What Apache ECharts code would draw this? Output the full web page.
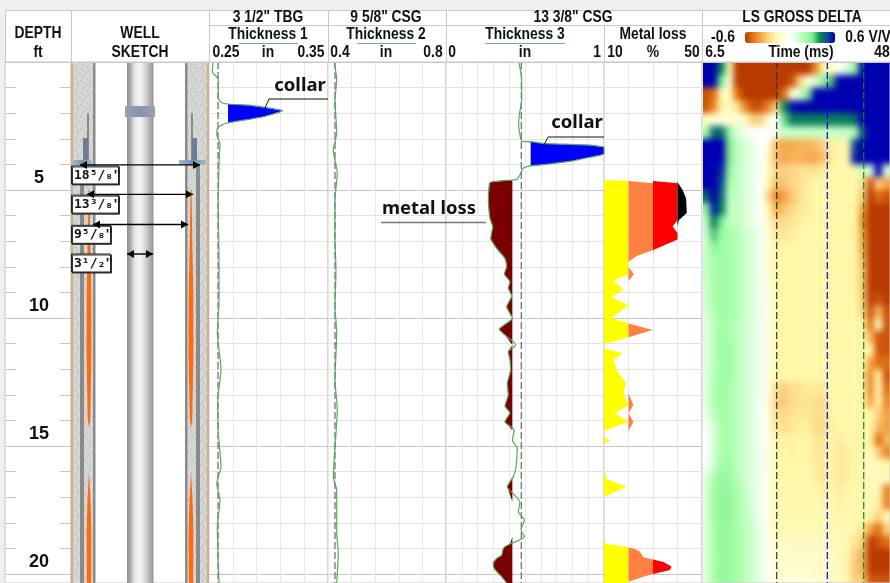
<!DOCTYPE html>
<html><head><meta charset="utf-8">
<script src="https://cdn.jsdelivr.net/npm/echarts@6/dist/echarts.min.js"></script>
<style>
html,body{margin:0;padding:0;width:890px;height:583px;overflow:hidden;background:#efefef}
#heatClip{position:absolute;left:702px;top:62px;width:188px;height:521px;overflow:hidden;background:#fff}
#heat{position:absolute;left:-14px;top:-14px;width:216px;height:549px;filter:blur(3px)}
#main{position:absolute;left:0;top:0;width:890px;height:583px}
</style></head><body>
<div id="heatClip"><div id="heat"></div></div>
<div id="main"></div>
<script>
// ---------- data ----------
const depthMax = 20.35;
const t1Depth = [0,.38,.68,1.42,1.59,1.64,1.71,1.90,2.14,2.38,2.46,2.59,2.85,3.18,3.70,4.34,5.39,6.56,7.73,9.30,10.59,12.03,13.2,14.49,15.81,16.46,17.11,18.15,20.35];
const t1Value = [.2534,.2528,.2578,.2578,.2607,.2660,.2872,.3119,.2956,.2660,.2607,.2570,.2565,.2592,.2587,.2582,.2578,.2580,.2584,.2584,.2570,.2601,.2573,.2578,.2601,.2565,.2592,.2570,.2584];
const t2Depth = [0,.70,1.48,2.77,3.44,4.34,5.39,6.95,8.13,9.57,10.59,12.42,13.59,15.04,16.21,16.72,18.40,19.18,20.35];
const t2Value = [.4214,.4295,.4237,.4295,.4180,.4315,.4237,.4237,.4271,.4237,.4295,.4237,.4315,.4237,.4180,.4295,.4295,.4349,.4295];
const t3Depth = [0,.43,.70,1.48,2.07,2.46,2.85,3.10,3.11,3.18,3.21,3.24,3.33,3.46,3.59,3.72,3.86,3.98,4.06,4.15,4.41,4.58,4.61,4.71,5.39,6.11,6.43,6.89,7.28,7.67,8.0,8.28,8.58,8.83,9.14,9.56,10.01,10.44,10.66,11.05,11.32,11.64,12.03,12.55,13.0,13.44,13.7,14.05,14.38,14.77,15.09,15.81,16.2,16.59,17.18,17.57,17.89,18.28,18.54,18.83,18.93,19.06,19.26,19.39,19.58,19.78,19.97,20.11,20.35];
const t3Value = [.460,.475,.479,.479,.464,.460,.468,.479,.536,.614,.741,.891,1,1,1,.911,.804,.658,.536,.489,.468,.451,.422,.278,.268,.278,.296,.283,.321,.373,.384,.369,.405,.394,.416,.384,.420,.337,.373,.441,.394,.405,.409,.388,.394,.373,.405,.373,.432,.420,.451,.443,.426,.388,.468,.458,.496,.475,.496,.405,.373,.359,.353,.321,.299,.304,.331,.353,.384];
const nominalT1 = .2576, nominalT2 = .4237, nominalT3 = .4766;
const collarBaseT1 = .266, collarBaseT3 = .536, lossBaseT3 = .42;
const mlDepth = [4.61,4.65,4.74,5.0,5.32,5.90,6.17,6.43,6.68,6.93,7.34,7.58,7.80,8.01,8.29,8.55,8.88,9.19,9.49,10.01,10.21,10.47,10.75,11.02,11.18,11.38,11.64,12.03,12.55,12.94,13.40,13.72,14.05,14.41,14.66,14.79,14.92,15.94,16.30,16.59,16.98,18.80,18.96,19.02,19.13,19.34,19.43,19.53,19.71,19.84,20.0,20.11,20.30,20.35];
const mlValue = [10,20,40.3,42.1,43.5,43.8,40.6,38,40,40,30.1,23.3,20,20,22.2,13.8,17.9,13.1,20,13.1,20,29.9,20,10,10,17.6,13.8,15.2,19,17.9,22,14.5,22,10,10,12.6,10,10,11.1,19.3,10,10,20,22.7,24.7,26,30.1,34.2,37.6,36.9,30.1,26,20,19.5];
const mlBands = [[10,20],[20,30],[30,40],[40,50]];
const timeMarkers = [22.99,34.16,42.2];
const timeMin = 6.5, timeMax = 48, heatDepthStep = .5;
const heatRows = [
[.6,.6,.4,-.15,-.6,-.6,-.6,-.6,-.6,-.6,-.6,-.6,-.6,-.6,-.45,-.2,-.15,0,.1,.25,.6,.6,.6,.6],
[.6,.6,.3,-.1,-.6,-.6,-.6,-.6,-.6,-.6,-.6,-.55,-.3,-.1,.1,.25,.35,.6,.6,.6,.6,.6,.6,.6],
[-.55,-.5,-.15,-.15,-.5,-.6,-.6,-.6,-.6,-.6,-.5,-.1,.1,.3,.6,.6,.6,.6,.6,.6,.6,.6,.6,.6],
[-.55,-.45,-.2,-.15,-.25,-.45,-.55,-.55,-.45,-.3,.4,.58,.6,.6,.6,.6,.6,.6,.6,.6,.6,.6,.6,.6],
[-.15,-.1,-.1,-.1,-.1,-.15,-.3,-.3,-.1,0,.32,.42,.42,.42,.42,.42,.42,.42,.42,.45,.6,.6,.6,.6],
[.2,.45,.45,.25,.1,.05,0,0,0,.05,.14,.14,.14,.14,.14,.14,.14,.14,.14,.2,.5,.6,.6,.6],
[.6,.6,.6,.3,.15,.1,.05,0,-.1,-.35,-.38,-.38,-.36,-.36,-.34,-.3,-.22,-.2,-.2,.5,.6,.6,.6,.6],
[.6,.6,.6,.3,.15,.1,.05,0,-.15,-.35,-.38,-.36,-.36,-.38,-.38,-.33,-.22,-.2,-.2,.55,.6,.6,.6,.6],
[.6,.6,.55,.25,.15,.1,.05,0,-.15,-.3,-.3,-.28,-.26,-.26,-.25,-.22,-.2,-.2,-.2,-.2,.15,.1,.6,.1],
[.6,.6,.5,.2,.15,.1,.05,0,-.18,-.34,-.32,-.28,-.26,-.22,-.2,-.2,-.2,-.2,-.2,-.2,-.25,-.55,-.3,-.4],
[.45,.6,.45,.15,.15,.1,.05,0,-.28,-.45,-.4,-.32,-.26,-.22,-.2,-.2,-.2,-.2,-.2,-.2,-.3,-.6,-.5,-.55],
[.25,.56,.42,.15,.15,.1,.05,0,-.2,-.38,-.32,-.28,-.24,-.22,-.2,-.2,-.2,-.2,-.2,-.2,-.4,-.6,-.6,-.6],
[.15,.42,.3,.15,.15,.1,.05,0,-.12,-.28,-.26,-.24,-.22,-.2,-.2,-.2,-.2,-.2,-.2,-.2,-.45,-.6,-.6,-.6],
[.12,.34,.22,.2,.18,.12,.1,.03,-.1,-.24,-.24,-.22,-.2,-.2,-.2,-.2,-.2,-.2,-.2,-.2,-.4,-.6,-.6,-.6],
[.12,.26,.22,.2,.18,.12,.1,.03,-.1,-.2,-.2,-.2,-.2,-.2,-.2,-.2,-.2,-.2,-.2,-.2,-.38,-.6,-.6,-.6],
[.14,.2,.22,.2,.18,.12,.1,.03,-.1,-.2,-.2,-.2,-.2,-.2,-.2,-.2,-.2,-.2,-.2,-.2,-.35,-.6,-.6,-.6],
[.14,.2,.22,.2,.18,.12,.1,.03,-.1,-.2,-.2,-.2,-.2,-.2,-.2,-.2,-.2,-.2,-.2,-.2,-.32,-.6,-.6,-.6],
[.12,.2,.22,.2,.18,.12,.1,.03,-.08,-.2,-.2,-.2,-.2,-.2,-.2,-.2,-.2,-.2,-.2,-.2,-.32,-.6,-.6,-.6],
[.12,.2,.22,.2,.18,.12,.1,.03,-.08,-.2,-.2,-.2,-.2,-.2,-.2,-.2,-.2,-.2,-.2,-.2,-.3,-.6,-.55,-.6],
[.1,.18,.22,.2,.18,.12,.1,.03,-.08,-.2,-.2,-.2,-.2,-.2,-.2,-.2,-.2,-.2,-.2,-.2,-.28,-.55,-.35,-.55],
[.08,.15,.22,.2,.16,.12,.08,.03,-.08,-.2,-.2,-.2,-.2,-.2,-.2,-.2,-.2,-.2,-.2,-.2,-.2,-.5,-.12,-.55],
[.08,.15,.22,.2,.16,.12,.08,.03,-.08,-.2,-.2,-.2,-.2,-.2,-.2,-.2,-.2,-.2,-.2,-.2,-.2,-.35,-.55,-.55],
[.08,.15,.22,.22,.16,.12,.08,.03,-.08,-.2,-.2,-.2,-.2,-.2,-.2,-.2,-.2,-.2,-.2,-.2,-.2,-.2,-.55,-.55],
[.08,.15,.22,.22,.16,.12,.08,.03,-.08,-.2,-.2,-.2,-.2,-.2,-.2,-.2,-.2,-.2,-.2,-.2,-.2,-.4,-.5,-.5],
[.08,.18,.22,.22,.16,.12,.08,.03,-.08,-.2,-.2,-.2,-.2,-.2,-.2,-.2,-.2,-.2,-.2,-.2,-.2,-.45,-.2,-.55],
[.08,.18,.22,.2,.16,.12,.08,.03,-.08,-.27,-.3,-.26,-.25,-.23,-.23,-.24,-.2,-.2,-.2,-.2,-.2,-.45,-.15,-.5],
[.08,.18,.22,.2,.16,.12,.08,.02,-.1,-.3,-.32,-.27,-.25,-.25,-.27,-.27,-.2,-.2,-.2,-.2,-.2,-.4,-.2,-.45],
[.06,.16,.2,.2,.16,.12,.08,.02,-.1,-.27,-.28,-.25,-.24,-.24,-.26,-.27,-.2,-.2,-.2,-.2,-.2,-.2,-.3,-.4],
[.02,.1,.2,.2,.16,.12,.08,.02,-.08,-.24,-.27,-.24,-.22,-.22,-.27,-.28,-.21,-.2,-.2,-.2,-.2,-.2,-.35,-.4],
[0,.1,.2,.2,.16,.12,.08,.02,-.08,-.2,-.21,-.21,-.2,-.2,-.24,-.25,-.2,-.22,-.2,-.2,-.2,-.2,-.5,-.35],
[0,.1,.2,.2,.16,.12,.08,.03,-.08,-.2,-.2,-.21,-.2,-.2,-.24,-.24,-.2,-.24,-.22,-.2,-.2,-.15,-.3,-.45],
[.02,.12,.22,.22,.16,.12,.08,.03,-.08,-.2,-.2,-.2,-.2,-.2,-.23,-.24,-.2,-.24,-.23,-.2,-.18,-.15,-.15,-.2],
[.08,.2,.24,.22,.18,.12,.08,.03,-.07,-.2,-.2,-.2,-.2,-.2,-.22,-.24,-.2,-.24,-.22,-.2,-.17,-.16,-.16,-.16],
[.08,.22,.25,.24,.2,.14,.08,.03,-.07,-.19,-.19,-.19,-.19,-.19,-.2,-.22,-.2,-.22,-.2,-.19,-.17,-.16,-.16,-.45],
[.08,.22,.25,.25,.2,.15,.1,.03,-.07,-.19,-.19,-.19,-.19,-.19,-.19,-.19,-.19,-.21,-.19,-.19,-.18,-.17,-.2,-.45],
[.08,.22,.25,.25,.2,.15,.1,.03,-.06,-.18,-.18,-.18,-.18,-.18,-.18,-.18,-.18,-.2,-.18,-.18,-.2,-.2,-.3,-.18],
[.08,.2,.24,.24,.2,.16,.12,.04,-.05,-.17,-.17,-.17,-.17,-.17,-.17,-.17,-.17,-.17,-.17,-.2,-.25,-.4,-.5,-.3],
[.08,.2,.24,.24,.2,.16,.12,.05,-.04,-.15,-.15,-.15,-.15,-.15,-.15,-.15,-.16,-.16,-.18,-.24,-.3,-.6,-.55,-.5],
[.08,.2,.24,.24,.2,.16,.12,.06,-.03,-.13,-.13,-.13,-.13,-.13,-.14,-.14,-.15,-.16,-.2,-.3,-.35,-.6,-.6,-.6],
[.08,.2,.24,.24,.2,.16,.12,.06,-.02,-.12,-.12,-.12,-.12,-.12,-.13,-.13,-.14,-.15,-.2,-.32,-.35,-.6,-.6,-.6],
[.08,.2,.24,.24,.2,.16,.12,.06,-.02,-.1,-.1,-.1,-.1,-.1,-.12,-.12,-.13,-.14,-.18,-.3,-.3,-.55,-.55,-.55]
];
const heatColors = ['#b83a00','#e07010','#f4a040','#fbd080','#fff7a8','#fffdd8','#ffffff','#d8ffd8','#a8ffa8','#80ec90','#0a8a50','#0a4a90','#0000b0'];

// ---------- text ----------
const headerFont = '"Liberation Sans",Arial,sans-serif';
const headerTexts = [
 ['DEPTH',38,33],['ft',38,52],['WELL',140,33],['SKETCH',140,52],
 ['3 1/2" TBG',268,17],['Thickness 1',268,34],['0.25',226,52],['in',268,52],['0.35',311,52],
 ['9 5/8" CSG',386,17],['Thickness 2',386,34],['0.4',340,52],['in',386,52],['0.8',433,52],
 ['13 3/8" CSG',573,17],['Thickness 3',525,34],['0',452,52],['in',525,52],['1',597,52],
 ['Metal loss',653,34],['10',615,52],['%',653,52],['50',692,52],
 ['LS GROSS DELTA',802,17],['-0.6',723,37],['0.6 V/V',868,37],['6.5',715,52],['Time (ms)',801,52],['48',882,52]
];
const annotations = [['collar',300,86],['collar',577,123],['metal loss',429,209]];
const sizeLabels = [['18⁵/₈"',47,4.06],['13³/₈"',47,5.2],['9⁵/₈"',39,6.38],['3¹/₂"',39,7.5]];

// ---------- well sketch definition (schematic units across the track) ----------
const sketchLayers = [
 [2.5,24,0,depthMax,'cement'],[114,135.5,0,depthMax,'cement'],
 [0,2.5,0,depthMax,'tan'],[135.5,138,0,depthMax,'tan'],
 [22,24.5,0,depthMax,'casing'],[114,116.5,0,depthMax,'casing'],
 [9,13,4.02,depthMax,'casing'],[125,129,4.02,depthMax,'casing'],
 [56,82.5,0,depthMax,'tube'],[54,84,1.72,2.15,'collar'],
 [16,18,2,4.02,'casing'],[120,122,2,4.02,'casing'],
 [12,17,2.97,3.94,'steel'],[121,126,2.97,3.94,'steel'],
 [2,21,3.83,4.02,'flange'],[108,135,3.83,4.02,'flange']
];
const orangeCentres = [18,120];
const orangeDepth = [[5,7,9,11.5,14,14.3],[16,17.1,18.4,19.5,20.35]];
const orangeWidth = [[1,2.5,4.6,4.8,2.4,0],[0,3,4.8,4.6,4.4]];
const sizeArrows = [[9,129,4.02],[16,122,5.17],[22,117,6.35],[56,82,7.5]];

// ---------- helpers ----------
const zip = (a,b)=>a.map((v,i)=>[v,b[i]]);
const speckle = document.createElement('canvas'); speckle.width=speckle.height=12;
(function(){const c=speckle.getContext('2d');c.fillStyle='#d4d4d4';c.fillRect(0,0,12,12);
 c.fillStyle='#b0b0b0';[[1,2],[6,1],[10,4],[3,7],[8,8],[5,11],[11,10]].forEach(p=>c.fillRect(p[0],p[1],1,1));
 c.fillStyle='#ececec';[[3,3],[8,4],[1,9],[6,6],[10,1],[9,11]].forEach(p=>c.fillRect(p[0],p[1],1,1));})();
const tubeFill = new echarts.graphic.LinearGradient(0,0,1,0,[{offset:0,color:'#8c8c8c'},{offset:.12,color:'#aaaaaa'},{offset:.3,color:'#e8e8e8'},{offset:.5,color:'#f4f4f4'},{offset:.72,color:'#cfcfcf'},{offset:1,color:'#929292'}]);
const collarFill = new echarts.graphic.LinearGradient(0,0,1,0,[{offset:0,color:'#9aa0a8'},{offset:.5,color:'#8195ad'},{offset:1,color:'#9aa0a8'}]);
const flangeFill = new echarts.graphic.LinearGradient(0,0,1,0,[{offset:0,color:'#a3b8c8'},{offset:.5,color:'#6f93b3'},{offset:1,color:'#a3b8c8'}]);
const fills = {cement:{image:speckle,repeat:'repeat'},tan:'#c9b48a',casing:'#8a8a8a',tube:tubeFill,collar:collarFill,steel:'#6a7f96',flange:flangeFill};

const tracks = [[5,66],[71,138],[209,119],[328,118],[446,158],[604,98],[702,188]];
const grids = tracks.map((t,i)=>({left:t[0],top:62,width:t[1],height:521,show:true,borderColor:'#c8c8c8',borderWidth:1,backgroundColor:i===6?'transparent':'#fff',containLabel:false}));
const xRanges = [[0,1,1],[0,138,138],[.25,.35,.02],[.4,.8,.08],[0,1,.1],[10,50,10],[timeMin,timeMax,timeMax-timeMin]];
const xAxes = xRanges.map((r,i)=>({type:'value',gridIndex:i,min:r[0],max:r[1],interval:r[2],position:'top',axisLine:{show:false},axisTick:{show:false},axisLabel:{show:false},
  splitLine:{show:i>=2&&i<6,lineStyle:{color:'#e8e8e8',width:1}}}));
const yBase = g=>({type:'value',gridIndex:g,inverse:true,min:0,max:depthMax,interval:1,axisLine:{show:false},axisTick:{show:false},axisLabel:{show:false},splitLine:{show:false}});
const hGrid = ['#c6c6c6','#e2e2e2','#e2e2e2','#e2e2e2','#e2e2e2'];
const yAxes = [
 Object.assign(yBase(0),{axisTick:{show:true,inside:true,length:11,lineStyle:{color:'#c6c6c6'}},splitLine:{show:true,lineStyle:{color:['#c6c6c6','transparent','transparent','transparent','transparent']}},
   axisLabel:{show:true,inside:true,margin:34,align:'center',verticalAlign:'bottom',padding:[0,0,3,0],color:'#111',fontSize:18,fontWeight:'bold',fontFamily:headerFont,showMinLabel:false,formatter:v=>(v%5===0&&v>0)?String(v):''}}),
 Object.assign(yBase(0),{position:'right',axisTick:{show:true,inside:true,length:11,lineStyle:{color:'#c6c6c6'}}}),
 yBase(1),
 ...[2,3,4,5].map(g=>Object.assign(yBase(g),{splitLine:{show:true,lineStyle:{color:hGrid}}})),
 Object.assign(yBase(6),{})
];
const axisOf = {depth:[0,0],sketch:[1,2],t1:[2,3],t2:[3,4],t3:[4,5],ml:[5,6],ls:[6,7]};
const on = k=>({xAxisIndex:axisOf[k][0],yAxisIndex:axisOf[k][1]});

function polySeries(k,z,builder){
  return Object.assign({type:'custom',coordinateSystem:'cartesian2d',silent:true,z,data:[0],clip:true,renderItem:(p,api)=>builder(api)},on(k));
}
function fillBetween(k,depths,values,base,clamp,color){
  return polySeries(k,3,api=>{
    const fwd=depths.map((d,i)=>api.coord([clamp(values[i]),d]));
    const back=depths.map(d=>api.coord([base,d])).reverse();
    return {type:'polygon',shape:{points:fwd.concat(back)},style:{fill:color}};
  });
}
const lineS = (k,d,color,width,dash)=>Object.assign({type:'line',data:d,showSymbol:false,symbol:'none',silent:true,z:4,clip:true,lineStyle:{color,width,type:dash||'solid'}},on(k));
const curve = (k,ds,vs)=>Object.assign(lineS(k,zip(vs,ds),'#5aa85a',1.2),{smooth:.2});
const marker = (k,v,color)=>lineS(k,[[v,0],[v,depthMax]],color,1.2,[7,3]);
const bandColors = ['#ffff00','#ff8040','#ff0000','#000000'];

const sketchSeries = polySeries('sketch',2,api=>{
  const kids=[];
  sketchLayers.forEach(l=>{
    const a=api.coord([l[0],l[2]]),b=api.coord([l[1],l[3]]);
    kids.push({type:'rect',shape:{x:a[0],y:a[1],width:b[0]-a[0],height:b[1]-a[1]},style:{fill:fills[l[4]]}});
  });
  orangeCentres.forEach(c=>orangeDepth.forEach((ds,j)=>{
    const w=orangeWidth[j];
    const pts=ds.map((d,i)=>api.coord([c+w[i]/2,d])).concat(ds.map((d,i)=>api.coord([c-w[i]/2,d])).reverse());
    kids.push({type:'polygon',shape:{points:pts},style:{fill:'#ff6a0a'}});
  }));
  sizeLabels.forEach(l=>{
    const a=api.coord([0,l[2]]);
    kids.push({type:'rect',shape:{x:a[0]+.5,y:a[1],width:l[1],height:18},style:{fill:'#fff',stroke:'#222',lineWidth:1,shadowColor:'#333',shadowOffsetX:1,shadowOffsetY:1}});
    kids.push({type:'text',style:{text:l[0],x:a[0]+3,y:a[1]+9.5,fill:'#111',fontSize:13,fontFamily:'"DejaVu Sans Mono",monospace',fontWeight:'bold',verticalAlign:'middle',align:'left'}});
  });
  sizeArrows.forEach(r=>{
    const a=api.coord([r[0],r[2]]),b=api.coord([r[1],r[2]]);
    kids.push({type:'line',shape:{x1:a[0],y1:a[1],x2:b[0],y2:b[1]},style:{stroke:'#000',lineWidth:1.4}});
    kids.push({type:'polygon',shape:{points:[[a[0],a[1]],[a[0]+7,a[1]-4],[a[0]+7,a[1]+4]]},style:{fill:'#000'}});
    kids.push({type:'polygon',shape:{points:[[b[0],b[1]],[b[0]-7,b[1]-4],[b[0]-7,b[1]+4]]},style:{fill:'#000'}});
  });
  return {type:'group',children:kids};
});
sketchSeries.clip=false;

const series = [
 sketchSeries,
 marker('t1',nominalT1,'#666'),
 fillBetween('t1',t1Depth,t1Value,collarBaseT1,v=>Math.max(v,collarBaseT1),'#0000ff'),
 curve('t1',t1Depth,t1Value),
 marker('t2',nominalT2,'#666'),
 curve('t2',t2Depth,t2Value),
 marker('t3',nominalT3,'#666'),
 fillBetween('t3',t3Depth,t3Value,collarBaseT3,v=>Math.max(v,collarBaseT3),'#0000ff'),
 fillBetween('t3',t3Depth,t3Value,lossBaseT3,v=>Math.min(v,lossBaseT3),'#7a0000'),
 curve('t3',t3Depth,t3Value),
 ...mlBands.map((b,i)=>fillBetween('ml',mlDepth,mlValue,b[0],v=>Math.min(Math.max(v,b[0]),b[1]),bandColors[i])),
 marker('ls',timeMarkers[0],'#333'),
 marker('ls',timeMarkers[1],'#0000ee'),
 marker('ls',timeMarkers[2],'#118a11')
];
const legendHost = series.length;
series.push(Object.assign({type:'custom',coordinateSystem:'cartesian2d',silent:true,data:[],renderItem:()=>null},on('ls')));

// ---------- header drawing ----------
const seg=(x1,y1,x2,y2,color,w)=>({type:'line',silent:true,z:50,shape:{x1,y1,x2,y2},style:{stroke:color||'#c8c8c8',lineWidth:w||1}});
const graphic=[
 {type:'rect',silent:true,z:-5,shape:{x:5,y:10,width:885,height:52},style:{fill:'#fff'}},
 seg(5,10.5,890,10.5),seg(5.5,10,5.5,62),seg(5,62.5,890,62.5),seg(209,25.5,890,25.5),
 seg(71.5,10,71.5,62),seg(209.5,10,209.5,62),seg(328.5,10,328.5,62),seg(446.5,10,446.5,62),seg(604.5,25,604.5,62),seg(702.5,10,702.5,62),
 seg(239,43.5,298,43.5,'#6db46d',1.2),seg(357,43.5,416,43.5,'#6db46d',1.2),seg(485,43.5,565,43.5,'#6db46d',1.2),
 // leader lines of the annotations
 {type:'polyline',silent:true,z:50,shape:{points:[[328,99],[269,99],[265,108]]},style:{stroke:'#111',lineWidth:1,fill:'none'}},
 {type:'polyline',silent:true,z:50,shape:{points:[[604,137],[548,137],[543,147]]},style:{stroke:'#111',lineWidth:1,fill:'none'}},
 seg(381,222.5,486,222.5,'#777',1.4)
];
headerTexts.forEach(t=>graphic.push({type:'text',silent:true,z:60,x:t[1],y:t[2],scaleX:.84,style:{text:t[0],x:0,y:0,align:'center',verticalAlign:'middle',fill:'#111',fontSize:16.5,fontWeight:'bold',fontFamily:headerFont}}));
annotations.forEach(t=>graphic.push({type:'text',silent:true,z:60,style:{text:t[0],x:t[1],y:t[2],align:'center',verticalAlign:'middle',fill:'#111',fontSize:18.5,fontWeight:'bold',fontFamily:'"Noto Sans","Open Sans",sans-serif'}}));

echarts.init(document.getElementById('main')).setOption({
 animation:false,backgroundColor:'transparent',grid:grids,xAxis:xAxes,yAxis:yAxes,series,graphic,
 visualMap:{type:'continuous',seriesIndex:legendHost,min:-.6,max:.6,orient:'horizontal',left:745,top:32,itemWidth:11,itemHeight:90,text:null,calculable:false,showLabel:false,hoverLink:false,inRange:{color:heatColors},padding:0,dimension:0}
});

// ---------- heat map (own canvas so the cells can be softened like the source image) ----------
const colCount=heatRows[0].length, timeStep=(timeMax-timeMin)/colCount, heatData=[];
heatRows.forEach((r,ri)=>r.forEach((v,ci)=>heatData.push([timeMin+ci*timeStep,ri*heatDepthStep,v])));
const heatPad=14;
echarts.init(document.getElementById('heat')).setOption({
 animation:false,backgroundColor:'transparent',
 grid:{left:heatPad,right:heatPad,top:heatPad,bottom:heatPad,containLabel:false},
 xAxis:{type:'value',min:timeMin,max:timeMax,show:false},
 yAxis:{type:'value',inverse:true,min:0,max:depthMax,show:false},
 visualMap:{show:false,type:'continuous',min:-.6,max:.6,dimension:2,seriesIndex:0,inRange:{color:heatColors}},
 series:[{type:'custom',coordinateSystem:'cartesian2d',silent:true,clip:false,encode:{x:0,y:1},data:heatData,progressive:0,renderItem:(p,api)=>{
   const t=api.value(0),d=api.value(1);
   const a=api.coord([t,d]),b=api.coord([t+timeStep,d+heatDepthStep]);
   let x0=a[0],x1=b[0]+.6,y0=a[1],y1=b[1]+.6;
   if(t===timeMin)x0-=heatPad;
   if(t+timeStep>timeMax-.01)x1+=heatPad;
   if(d===0)y0-=heatPad;
   return {type:'rect',shape:{x:x0,y:y0,width:x1-x0,height:y1-y0},style:{fill:api.visual('color')}};
 }}]
});
</script>
</body></html>
